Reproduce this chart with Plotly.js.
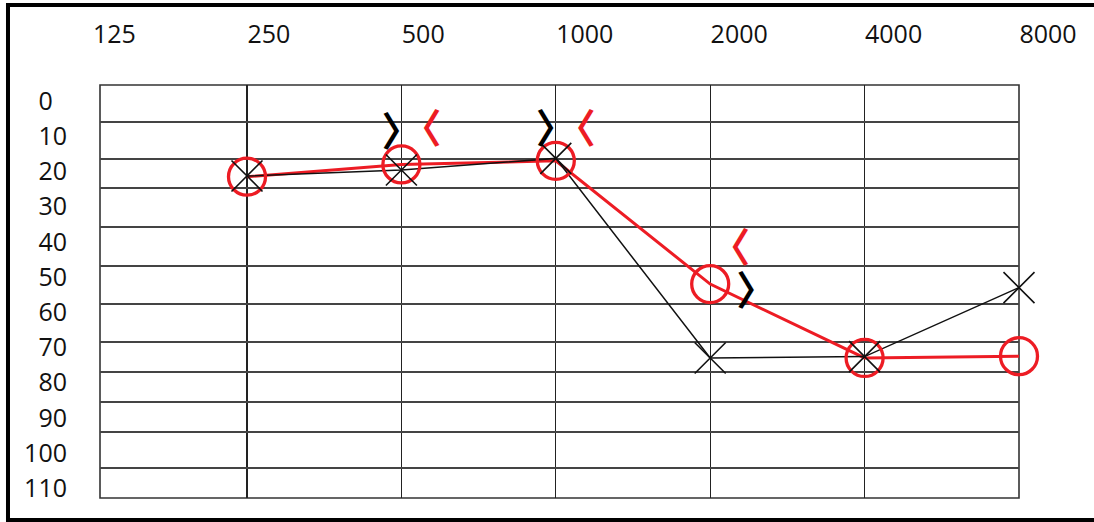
<!DOCTYPE html>
<html>
<head>
<meta charset="utf-8">
<script src="https://cdn.plot.ly/plotly-3.0.1.min.js"></script>
<style>html,body{margin:0;padding:0;background:#fff;}#chart{width:1094px;height:522px;}</style>
</head>
<body>
<div id="chart"></div>
<script>
// Frequency labels along the top (Hz)
const freqTicks = [125, 250, 500, 1000, 2000, 4000, 8000];
const freqLabels = ['125', '250', '500', '1000', '2000', '4000', '8000'];
// Tested frequencies
const testFreqs = [250, 500, 1000, 2000, 4000, 8000];
// Air conduction thresholds (dB HL)
const rightAir = [21.5, 18, 17, 52, 73, 72.5];   // red O
const leftAir = [21.3, 19.6, 16.3, 73, 72.6, 53]; // black X
// Bone conduction thresholds (dB HL)
const boneFreqs = [500, 1000, 2000];
const rightBone = [9, 9, 43];   // red <
const leftBone = [10, 9, 55];   // black >
// Hearing level labels
const dbTicks = [0, 10, 20, 30, 40, 50, 60, 70, 80, 90, 100, 110];
const dbLabels = ['0', '10', '20', '30', '40', '50', '60', '70', '80', '90', '100', '110'];
// Row boundaries of the hand-drawn table (dB)
const rowLines = [6, 16.5, 24.7, 35.8, 46.9, 57.7, 68.5, 77, 85.5, 94, 104.3];

const RED = '#ed1c24';
const FONT = 'Open Sans, DejaVu Sans, sans-serif';
const CJK = 'Noto Sans CJK SC, Noto Sans CJK JP, sans-serif';
const FS = '\u2007';
const padTo4 = s => s.length < 4 ? s + FS.repeat(4 - s.length) : s;
const padY = s => s.length < 2 ? s + FS : s;

const traces = [
  {x: testFreqs, y: rightAir, mode: 'lines', line: {color: RED, width: 3}, cliponaxis: false, hoverinfo: 'skip'},
  {x: testFreqs, y: leftAir, mode: 'lines', line: {color: '#111', width: 1.5}, cliponaxis: false, hoverinfo: 'skip'},
  {x: testFreqs, y: rightAir, mode: 'markers', cliponaxis: false,
   marker: {symbol: 'circle-open', size: 37, color: RED, line: {width: 3.3, color: RED}}},
  {x: testFreqs, y: leftAir, mode: 'markers', cliponaxis: false,
   marker: {symbol: 'x-thin', size: 31, color: '#111', line: {width: 1.6, color: '#111'}}},
  {x: boneFreqs, y: rightBone, mode: 'text', text: boneFreqs.map(() => '〈'), cliponaxis: false,
   textposition: 'middle right',
   textfont: {family: CJK, size: 40, color: RED, weight: 'bold'}},
  {x: boneFreqs, y: leftBone, mode: 'markers+text', text: boneFreqs.map(() => '〉'), cliponaxis: false,
   marker: {size: [0, 0, 40], opacity: 0}, textposition: ['middle center', 'middle center', 'middle right'],
   textfont: {family: CJK, size: 40, color: '#000', weight: 'bold'}},
  // carriers for the label-only axes
  {x: [], y: [], xaxis: 'x2', yaxis: 'y3', mode: 'markers', hoverinfo: 'skip'},
  {x: [], y: [], xaxis: 'x', yaxis: 'y2', mode: 'markers', hoverinfo: 'skip'}
];

const yRange = [112.78, -4.55];
const layout = {
  width: 1094, height: 522,
  margin: {l: 60, r: 0, t: 85, b: 24, pad: 0},
  paper_bgcolor: '#fff', plot_bgcolor: 'rgba(0,0,0,0)',
  showlegend: false,
  xaxis: {
    type: 'log', domain: [40 / 1034, 959 / 1034], range: [2.11133, 3.90309], anchor: 'y',
    tickmode: 'array', tickvals: freqTicks, showticklabels: false, ticks: '',
    showgrid: true, gridcolor: '#222', gridwidth: 1.3, zeroline: false, showline: false, fixedrange: true
  },
  xaxis2: {
    type: 'log', domain: [0, 1], range: [1.9768, 3.99279], anchor: 'y3', side: 'top',
    tickmode: 'array', tickvals: freqTicks, ticktext: freqLabels.map(padTo4), ticks: '',
    showgrid: false, zeroline: false, showline: false, ticklabelstandoff: 36,
    tickfont: {family: FONT, size: 25, color: '#111'}, fixedrange: true
  },
  yaxis: {
    range: yRange, domain: [0, 1], anchor: 'x',
    tickmode: 'array', tickvals: rowLines, showticklabels: false, ticks: '',
    showgrid: true, gridcolor: '#444', gridwidth: 1.6, zeroline: false, showline: false, fixedrange: true
  },
  yaxis2: {
    range: yRange, overlaying: 'y', anchor: 'x', side: 'left',
    tickmode: 'array', tickvals: dbTicks, ticktext: dbLabels.map(padY), ticks: '',
    showgrid: false, zeroline: false, showline: false, ticklabelstandoff: 32,
    tickfont: {family: FONT, size: 25, color: '#111'}, fixedrange: true
  },
  yaxis3: {
    domain: [0, 1], anchor: 'x2', range: [0, 1], visible: false, fixedrange: true
  },
  shapes: [
    {type: 'rect', xref: 'x domain', yref: 'y domain', x0: 0, x1: 1, y0: 0, y1: 1,
     line: {color: '#333', width: 1.6}, fillcolor: 'rgba(0,0,0,0)', layer: 'below'},
    {type: 'rect', xref: 'paper', yref: 'paper', x0: -0.0503, x1: 1.01, y0: -0.0533, y1: 1.1937,
     line: {color: '#000', width: 4}, fillcolor: 'rgba(0,0,0,0)'}
  ]
};

Plotly.newPlot('chart', traces, layout, {staticPlot: true, displayModeBar: false});
</script>
</body>
</html>
